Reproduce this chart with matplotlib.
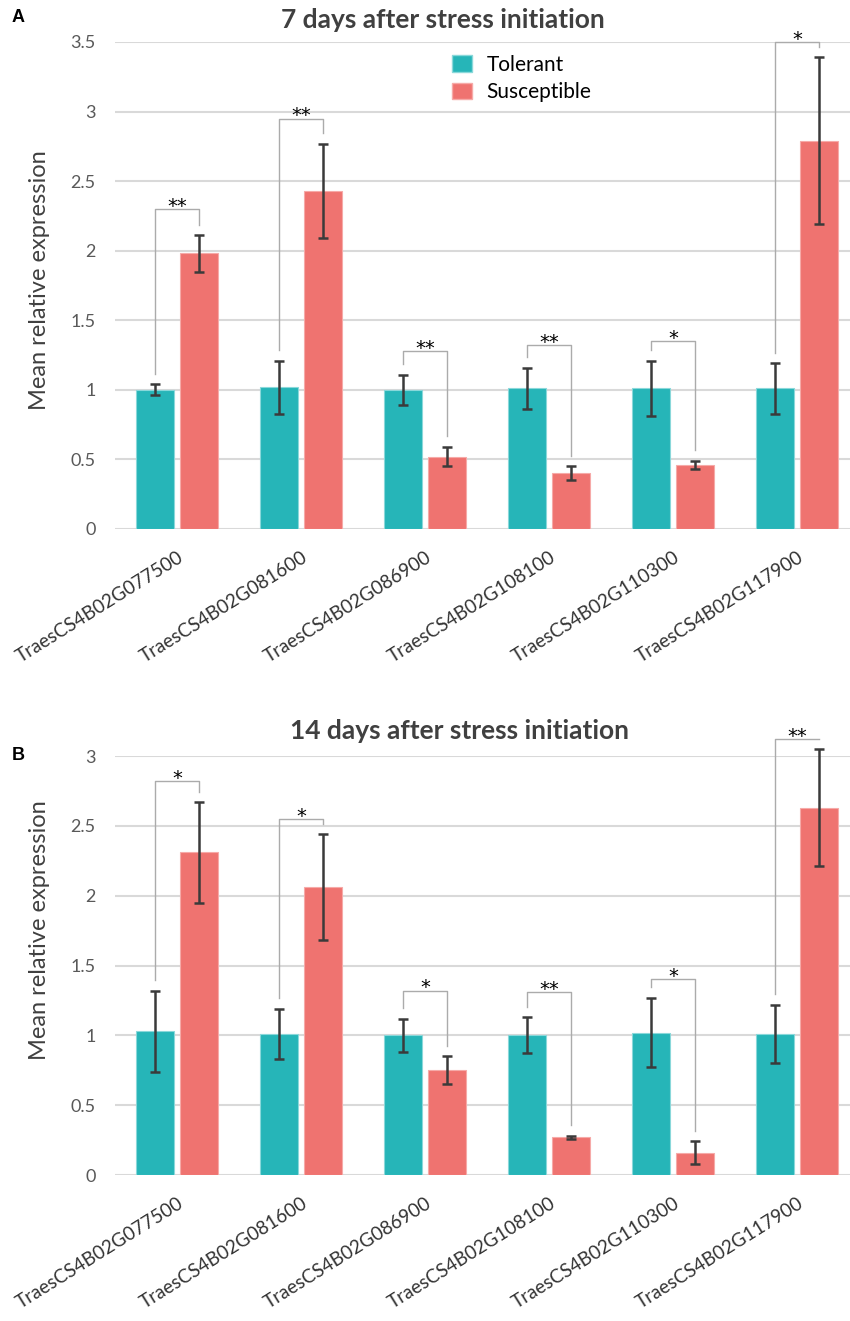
import numpy as np
import matplotlib
matplotlib.use("Agg")
import matplotlib.pyplot as plt
from matplotlib.patches import Patch
import matplotlib.transforms as mtransforms

plt.rcParams['font.family'] = ['Lato', 'DejaVu Sans']

genes = ['TraesCS4B02G077500', 'TraesCS4B02G081600', 'TraesCS4B02G086900',
         'TraesCS4B02G108100', 'TraesCS4B02G110300', 'TraesCS4B02G117900']

# panel A: 7 days
tol_a = [1.00, 1.02, 1.00, 1.01, 1.01, 1.01]
tol_err_a = [0.04, 0.19, 0.11, 0.15, 0.20, 0.18]
sus_a = [1.98, 2.43, 0.52, 0.40, 0.46, 2.79]
sus_err_a = [0.13, 0.34, 0.07, 0.05, 0.03, 0.60]
stars_a = ['**', '**', '**', '**', '*', '*']
bracket_a = [2.30, 2.95, 1.28, 1.32, 1.35, 3.50]

# panel B: 14 days
tol_b = [1.03, 1.01, 1.00, 1.00, 1.02, 1.01]
tol_err_b = [0.29, 0.18, 0.12, 0.13, 0.25, 0.21]
sus_b = [2.31, 2.06, 0.75, 0.27, 0.16, 2.63]
sus_err_b = [0.36, 0.38, 0.10, 0.01, 0.08, 0.42]
stars_b = ['*', '*', '*', '**', '*', '**']
bracket_b = [2.82, 2.55, 1.32, 1.31, 1.40, 3.12]

teal = '#26B5B8'
salmon = '#EF7370'
W, H = 850, 1321

fig = plt.figure(figsize=(W / 100, H / 100), dpi=100)


def panel(top, bottom, ymax, tol, tol_err, sus, sus_err, stars, brackets):
    ax = fig.add_axes([115 / W, 1 - bottom / H, (859 - 115) / W, (bottom - top) / H])
    x = np.arange(len(genes))
    off, w = 0.177, 0.31
    ax.bar(x - off, tol, w, color=teal, edgecolor='#8ad8da', linewidth=0.8, zorder=2)
    ax.bar(x + off, sus, w, color=salmon, edgecolor='#f6aaa8', linewidth=0.8, zorder=2)
    for xs, ys, es in [(x - off, tol, tol_err), (x + off, sus, sus_err)]:
        eb = ax.errorbar(xs, ys, yerr=es, fmt='none', ecolor='#3a3a3a',
                         elinewidth=1.8, capsize=3.6, capthick=1.8, zorder=3)
        for art in eb.get_children():
            art.set_clip_on(False)
    # significance brackets
    for i in range(len(genes)):
        lt = min(tol[i] + tol_err[i] + 0.075, brackets[i])
        rt = min(sus[i] + sus_err[i] + 0.075, brackets[i])
        ax.plot([x[i] - off, x[i] - off, x[i] + off, x[i] + off],
                [lt, brackets[i], brackets[i], rt],
                color='#ababab', lw=1.0, zorder=1, clip_on=False)
        ax.annotate(stars[i], (x[i], brackets[i]), xytext=(0, -2),
                    textcoords='offset points', ha='center', va='baseline',
                    fontsize=14, family='DejaVu Sans', color='black',
                    annotation_clip=False)
    ax.set_xlim(-0.5, len(genes) - 0.5)
    ax.set_ylim(0, ymax)
    ticks = np.arange(0, ymax + 0.01, 0.5)
    ax.set_yticks(ticks)
    ax.set_yticklabels([f'{t:g}' for t in ticks], fontsize=13, color='#595959')
    ax.set_xticks(x)
    ax.set_xticklabels(genes, rotation=32, ha='right', va='top',
                       rotation_mode='anchor', fontsize=13.6, color='#333333')
    shift = mtransforms.ScaledTranslation(5 / 100, -3 / 100, fig.dpi_scale_trans)
    for lab in ax.get_xticklabels():
        lab.set_transform(lab.get_transform() + shift)
    ax.tick_params(axis='both', length=0)
    ax.tick_params(axis='y', pad=14)
    ax.tick_params(axis='x', pad=14)
    ax.yaxis.grid(True, color='#D9D9D9', lw=1.5)
    ax.set_axisbelow(True)
    for s in ax.spines.values():
        s.set_visible(False)
    return ax


ax1 = panel(42, 529, 3.5, tol_a, tol_err_a, sus_a, sus_err_a, stars_a, bracket_a)
ax2 = panel(756, 1175, 3.0, tol_b, tol_err_b, sus_b, sus_err_b, stars_b, bracket_b)

handles = [Patch(facecolor=teal, edgecolor='#8ad8da'), Patch(facecolor=salmon, edgecolor='#f6aaa8')]
ax1.legend(handles, ['Tolerant', 'Susceptible'], loc='upper left',
           bbox_to_anchor=(452 / W, 1 - 55 / H), bbox_transform=fig.transFigure,
           frameon=False, fontsize=15, handlelength=0.95, handleheight=0.85,
           handletextpad=0.7, labelspacing=0.35, borderpad=0, borderaxespad=0)

fig.text(443 / W, 1 - 20 / H, '7 days after stress initiation', ha='center', va='center',
         fontsize=19, fontweight='bold', color='#404040')
fig.text(460 / W, 1 - 731 / H, '14 days after stress initiation', ha='center', va='center',
         fontsize=19, fontweight='bold', color='#404040')
fig.text(40 / W, 1 - 280 / H, 'Mean relative expression', rotation=90, ha='center',
         va='center', fontsize=17, color='#404040')
fig.text(40 / W, 1 - 930 / H, 'Mean relative expression', rotation=90, ha='center',
         va='center', fontsize=17, color='#404040')
fig.text(12 / W, 1 - 18 / H, 'A', fontsize=13, fontweight='bold', family='Liberation Sans',
         va='center', ha='left')
fig.text(12 / W, 1 - 755 / H, 'B', fontsize=13, fontweight='bold', family='Liberation Sans',
         va='center', ha='left')

fig.savefig('out.png', dpi=100)
